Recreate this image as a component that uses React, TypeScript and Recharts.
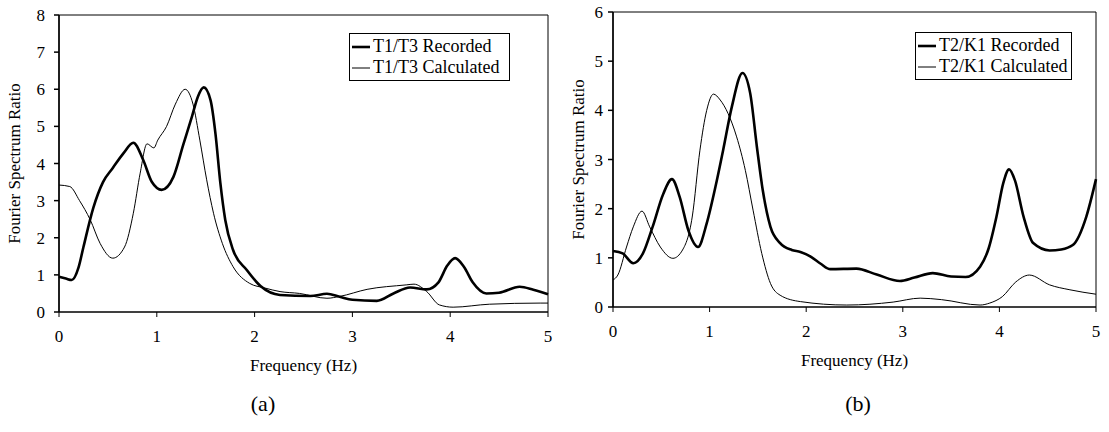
import { LineChart, Line, XAxis, YAxis, ReferenceArea } from 'recharts'

// (a) T1/T3 spectral ratios
const freqRecA = [0, 0.07, 0.13, 0.2, 0.25, 0.35, 0.45, 0.55, 0.66, 0.76, 0.86, 0.95, 1.05, 1.17, 1.27, 1.36, 1.42, 1.48, 1.55, 1.6, 1.65, 1.7, 1.78, 1.92, 2.06, 2.26, 2.57, 2.74, 2.87, 3.0, 3.25, 3.42, 3.59, 3.76, 3.88, 3.97, 4.05, 4.14, 4.23, 4.37, 4.5, 4.71, 4.85, 5.0]
const ratioRecA = [0.95, 0.9, 0.86, 1.2, 1.75, 2.8, 3.5, 3.88, 4.28, 4.56, 4.1, 3.5, 3.29, 3.64, 4.5, 5.27, 5.8, 6.05, 5.7, 4.8, 3.47, 2.48, 1.67, 1.13, 0.7, 0.46, 0.43, 0.49, 0.41, 0.33, 0.3, 0.5, 0.66, 0.61, 0.8, 1.25, 1.45, 1.22, 0.8, 0.5, 0.52, 0.68, 0.6, 0.48]
const freqCalA = [0, 0.11, 0.21, 0.32, 0.42, 0.55, 0.67, 0.76, 0.83, 0.9, 0.97, 1.01, 1.1, 1.19, 1.29, 1.37, 1.44, 1.51, 1.58, 1.67, 1.78, 1.95, 2.1, 2.26, 2.46, 2.74, 2.87, 3.15, 3.55, 3.63, 3.76, 3.89, 4.03, 4.4, 4.92, 5.0]
const ratioCalA = [3.42, 3.38, 3.0, 2.48, 1.85, 1.45, 1.75, 2.66, 3.74, 4.53, 4.42, 4.63, 5.0, 5.6, 6.0, 5.6, 4.63, 3.56, 2.66, 1.85, 1.22, 0.77, 0.65, 0.55, 0.5, 0.37, 0.42, 0.61, 0.73, 0.75, 0.55, 0.19, 0.13, 0.21, 0.24, 0.24]

// (b) T2/K1 spectral ratios
const freqRecB = [0, 0.1, 0.21, 0.31, 0.41, 0.52, 0.61, 0.69, 0.78, 0.88, 0.97, 1.06, 1.14, 1.23, 1.34, 1.42, 1.49, 1.55, 1.63, 1.73, 1.85, 1.94, 2.05, 2.15, 2.25, 2.52, 2.73, 2.97, 3.12, 3.31, 3.5, 3.65, 3.8, 3.89, 3.97, 4.04, 4.1, 4.16, 4.25, 4.35, 4.52, 4.64, 4.76, 4.9, 5.0]
const ratioRecB = [1.14, 1.09, 0.89, 1.09, 1.63, 2.3, 2.6, 2.24, 1.56, 1.22, 1.7, 2.44, 3.19, 4.07, 4.76, 4.35, 3.25, 2.38, 1.63, 1.3, 1.16, 1.12, 1.02, 0.88, 0.77, 0.78, 0.66, 0.53, 0.6, 0.69, 0.62, 0.61, 0.82, 1.2, 1.84, 2.52, 2.8, 2.58, 1.84, 1.3, 1.15, 1.17, 1.26, 1.84, 2.6]
const freqCalB = [0, 0.05, 0.14, 0.21, 0.3, 0.38, 0.49, 0.62, 0.72, 0.82, 0.9, 0.97, 1.04, 1.11, 1.19, 1.28, 1.37, 1.45, 1.54, 1.63, 1.73, 1.94, 2.42, 2.9, 3.18, 3.4, 3.8, 3.9, 4.03, 4.17, 4.31, 4.52, 4.73, 5.0]
const ratioCalB = [0.55, 0.65, 1.22, 1.63, 1.95, 1.63, 1.22, 0.99, 1.16, 1.83, 3.19, 4.0, 4.33, 4.21, 3.94, 3.46, 2.78, 1.97, 1.09, 0.48, 0.24, 0.11, 0.04, 0.1, 0.18, 0.15, 0.04, 0.08, 0.21, 0.51, 0.65, 0.45, 0.35, 0.26]

const freqTicks = [0, 1, 2, 3, 4, 5]
const ratioTicksA = [0, 1, 2, 3, 4, 5, 6, 7, 8]
const ratioTicksB = [0, 1, 2, 3, 4, 5, 6]

const FONT = '"Times New Roman", Times, serif'
const AXIS_H = 65

const toPoints = (f: number[], v: number[]) => f.map((x, i) => ({ f: x, v: v[i] }))

interface Series {
  name: string
  points: { f: number; v: number }[]
  width: number
}

interface PanelProps {
  left: number
  width: number
  plotBottom: number
  top: number
  axisWidth: number
  tickGap: number
  titleOffset: number
  yMax: number
  yTicks: number[]
  series: Series[]
  legendPos: { left: number; top: number; width: number }
}

function Panel({ left, width, plotBottom, top, axisWidth, tickGap, titleOffset, yMax, yTicks, series, legendPos }: PanelProps) {
  const tick = { fontSize: 17, fill: '#000', fontFamily: FONT }
  const title = { fontSize: 17, fill: '#000', fontFamily: FONT }
  return (
    <div style={{ position: 'absolute', left, top: 0, fontFamily: FONT }}>
      <LineChart
        width={width}
        height={plotBottom + AXIS_H}
        margin={{ top, right: 13, left: 0, bottom: 0 }}
        style={{ fontFamily: FONT }}
      >
        <XAxis
          dataKey="f"
          type="number"
          domain={[0, 5]}
          ticks={freqTicks}
          stroke="#000"
          tickSize={5}
          tickMargin={13}
          tick={tick}
          fontFamily={FONT}
          height={AXIS_H}
          label={{ value: 'Frequency (Hz)', position: 'insideBottom', offset: 6, fontFamily: FONT, style: title }}
        />
        <YAxis
          type="number"
          domain={[0, yMax]}
          ticks={yTicks}
          stroke="#000"
          strokeWidth={1.5}
          tickSize={5}
          tickMargin={tickGap}
          tick={tick}
          fontFamily={FONT}
          width={axisWidth}
          label={{ value: 'Fourier Spectrum Ratio', angle: -90, position: 'insideLeft', offset: titleOffset, fontFamily: FONT, style: { ...title, textAnchor: 'middle' } }}
        />
        <ReferenceArea x1={0} x2={5} y1={0} y2={yMax} fill="none" stroke="#000" strokeWidth={1} />
        {series.map((s) => (
          <Line
            key={s.name}
            data={s.points}
            dataKey="v"
            name={s.name}
            type="monotone"
            stroke="#000"
            strokeWidth={s.width}
            dot={false}
            isAnimationActive={false}
          />
        ))}
      </LineChart>
      {/* boxed legend in the upper right of the plot */}
      <div
        style={{
          position: 'absolute',
          left: legendPos.left,
          top: legendPos.top,
          width: legendPos.width,
          boxSizing: 'border-box',
          border: '1px solid #000',
          background: '#fff',
          padding: '2px',
          fontSize: 18,
          lineHeight: '21px',
        }}
      >
        {series.map((s) => (
          <div key={s.name} style={{ display: 'flex', alignItems: 'center', whiteSpace: 'nowrap' }}>
            <svg width={19} height={10} style={{ marginRight: 2 }}>
              <line x1={0} y1={5} x2={18} y2={5} stroke="#000" strokeWidth={s.width} />
            </svg>
            <span>{s.name}</span>
          </div>
        ))}
      </div>
    </div>
  )
}

export default function App() {
  const seriesA: Series[] = [
    { name: 'T1/T3 Recorded', points: toPoints(freqRecA, ratioRecA), width: 2.6 },
    { name: 'T1/T3 Calculated', points: toPoints(freqCalA, ratioCalA), width: 1 },
  ]
  const seriesB: Series[] = [
    { name: 'T2/K1 Recorded', points: toPoints(freqRecB, ratioRecB), width: 2.6 },
    { name: 'T2/K1 Calculated', points: toPoints(freqCalB, ratioCalB), width: 1 },
  ]
  const caption = { position: 'absolute' as const, top: 404, transform: 'translate(-50%, -50%)', fontFamily: FONT, fontSize: 22 }

  return (
    <div style={{ position: 'absolute', left: 0, top: 0, width: 1109, height: 432, background: '#fff', fontFamily: FONT }}>
      <Panel
        left={0}
        width={561}
        plotBottom={312}
        top={15}
        axisWidth={59}
        tickGap={9}
        titleOffset={14}
        yMax={8}
        yTicks={ratioTicksA}
        series={seriesA}
        legendPos={{ left: 349, top: 33, width: 161 }}
      />
      <Panel
        left={560}
        width={549}
        plotBottom={307}
        top={12}
        axisWidth={53}
        tickGap={5}
        titleOffset={18}
        yMax={6}
        yTicks={ratioTicksB}
        series={seriesB}
        legendPos={{ left: 355, top: 32, width: 157 }}
      />
      <div style={{ ...caption, left: 263 }}>(a)</div>
      <div style={{ ...caption, left: 858 }}>(b)</div>
    </div>
  )
}
